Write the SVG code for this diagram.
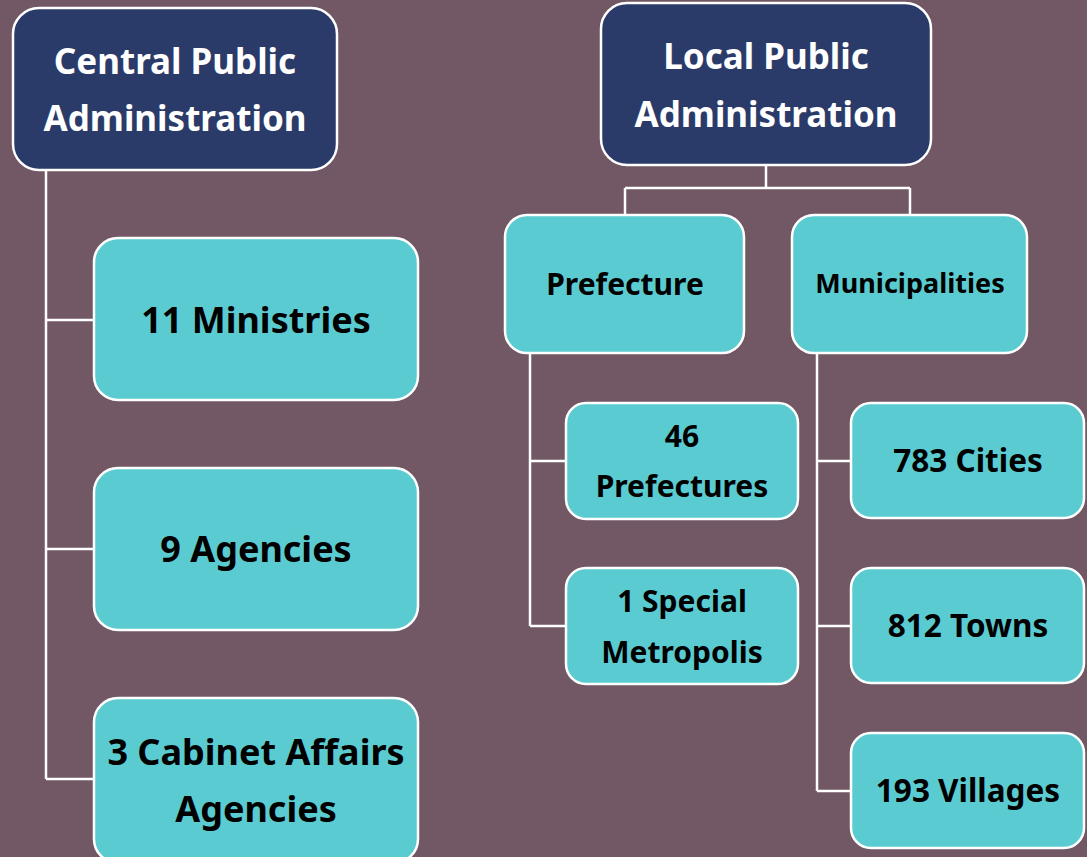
<svg xmlns="http://www.w3.org/2000/svg" width="1087" height="857" viewBox="0 0 1087 857">
<style>
.bg{fill:#725765}
.top{fill:#2B3B69;stroke:#fff;stroke-width:2.5}
.box{fill:#5ACCD1;stroke:#fff;stroke-width:2.5}
.tw{fill:#fff;font-family:"Noto Sans","DejaVu Sans",sans-serif;font-weight:bold;font-size:35px;text-anchor:middle}
.tb{fill:#000;font-family:"Noto Sans","DejaVu Sans",sans-serif;font-weight:bold;text-anchor:middle}
.conn{fill:none;stroke:#fff;stroke-width:2.5}
</style>
<rect class="bg" x="0" y="0" width="1087" height="857"/>
<g id="connectors">
<path class="conn" d="M46,170 V779 M46,320 H94 M46,549 H94 M46,779 H94"/>
<path class="conn" d="M766,165 V188 M625,188 H910 M625,188 V215 M910,188 V215"/>
<path class="conn" d="M530,353 V626 M530,461 H566 M530,626 H566"/>
<path class="conn" d="M817,353 V791 M817,461 H851 M817,626 H851 M817,791 H851"/>
</g>
<g id="central">
<rect class="top" x="13" y="8" width="324" height="162" rx="26"/>
<text class="tw" x="175" y="74">Central Public</text>
<text class="tw" x="175" y="131">Administration</text>
</g>
<g id="ministries">
<rect class="box" x="94" y="238" width="324" height="162" rx="24"/>
<text class="tb" x="256" y="333" font-size="36">11 Ministries</text>
</g>
<g id="agencies">
<rect class="box" x="94" y="468" width="324" height="162" rx="24"/>
<text class="tb" x="256" y="562" font-size="36">9 Agencies</text>
</g>
<g id="cabinet">
<rect class="box" x="94" y="698" width="324" height="165" rx="24"/>
<text class="tb" x="256" y="765" font-size="36">3 Cabinet Affairs</text>
<text class="tb" x="256" y="822" font-size="36">Agencies</text>
</g>
<g id="local">
<rect class="top" x="601" y="3" width="330" height="162" rx="26"/>
<text class="tw" x="766" y="69">Local Public</text>
<text class="tw" x="766" y="127">Administration</text>
</g>
<g id="prefecture">
<rect class="box" x="505" y="215" width="239" height="138" rx="22"/>
<text class="tb" x="625" y="295" font-size="30">Prefecture</text>
</g>
<g id="municipalities">
<rect class="box" x="792" y="215" width="235" height="138" rx="22"/>
<text class="tb" x="910" y="293" font-size="27">Municipalities</text>
</g>
<g id="prefectures46">
<rect class="box" x="566" y="403" width="232" height="116" rx="20"/>
<text class="tb" x="682" y="447" font-size="30">46</text>
<text class="tb" x="682" y="497" font-size="30">Prefectures</text>
</g>
<g id="metropolis">
<rect class="box" x="566" y="568" width="232" height="116" rx="20"/>
<text class="tb" x="682" y="612" font-size="30">1 Special</text>
<text class="tb" x="682" y="663" font-size="30">Metropolis</text>
</g>
<g id="cities">
<rect class="box" x="851" y="403" width="233" height="115" rx="20"/>
<text class="tb" x="968" y="472" font-size="31.5">783 Cities</text>
</g>
<g id="towns">
<rect class="box" x="851" y="568" width="233" height="115" rx="20"/>
<text class="tb" x="968" y="637" font-size="31.5">812 Towns</text>
</g>
<g id="villages">
<rect class="box" x="851" y="733" width="233" height="115" rx="20"/>
<text class="tb" x="968" y="802" font-size="31.5">193 Villages</text>
</g>
</svg>
